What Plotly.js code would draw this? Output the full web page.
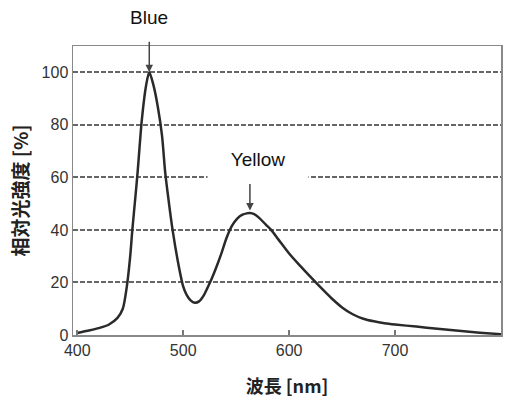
<!DOCTYPE html>
<html>
<head>
<meta charset="utf-8">
<script src="https://cdn.plot.ly/plotly-3.0.1.min.js"></script>
<style>html,body{margin:0;padding:0;background:#fff;}#chart{width:505px;height:402px;}</style>
</head>
<body>
<div id="chart"></div>
<script>
const wavelength = [400,410,420,430,438,443,447,450,452,455,457,461,465,468,472,476,480,483,486,490,495,500,503,507,511,515,519,523,527,531,536,541,546,551,556,560,563,567,572,578,583,590,600,610,620,630,640,650,660,670,680,690,700,720,740,760,780,800];
const intensity  = [0.8,1.6,2.6,4,6.5,10,19,30,40,53,62,82,95,100,95,87,76,62,52,40,28,18.5,15.5,13.2,12.3,12.8,14.8,18,21.5,25.5,31,37,41.5,44.3,45.8,46.3,46.4,46,44.5,42,40,36.3,31,26.5,22.2,18,14,10.5,7.9,6.2,5.2,4.5,4,3.2,2.4,1.6,0.9,0.3];
const yTicks = [0,20,40,60,80,100];
const xTicks = [400,500,600,700];
const peakLabels = ["Blue","Yellow"];
const peakX = [468,563];
const peakY = [100,46.4];

const trace = {
  x: wavelength, y: intensity, type: 'scatter', mode: 'lines',
  line: {color: '#2a2a2a', width: 2.5, shape: 'spline', smoothing: 0.8},
  hoverinfo: 'skip'
};

const layout = {
  width: 505, height: 402,
  margin: {l: 73, r: 4, t: 46, b: 67},
  paper_bgcolor: '#ffffff', plot_bgcolor: '#ffffff',
  showlegend: false,
  font: {family: 'Liberation Sans, Arial, sans-serif', color: '#333'},
  xaxis: {
    range: [396, 800], tickvals: xTicks, ticktext: xTicks.map(String),
    ticks: 'inside', ticklen: 5, tickwidth: 1.5, tickcolor: '#777',
    showgrid: false, zeroline: false,
    showline: true, linecolor: '#888', linewidth: 1.5, mirror: true,
    tickfont: {size: 16, color: '#333', family: 'Liberation Sans, Arial, sans-serif'},
    title: {text: '波長 [nm]', font: {size: 18, color: '#222', family: 'Noto Sans CJK JP', weight: 'bold'}, standoff: 22}
  },
  yaxis: {
    range: [0, 110], tickvals: yTicks, ticktext: yTicks.map(String),
    ticks: '', showgrid: true, gridcolor: '#666666', gridwidth: 2, griddash: '5px,2px',
    zeroline: false,
    showline: true, linecolor: '#888', linewidth: 1.5, mirror: true,
    tickfont: {size: 16, color: '#333', family: 'Liberation Sans, Arial, sans-serif'},
    title: {text: '相対光強度 [%]', font: {size: 19, color: '#222', family: 'Noto Sans CJK JP', weight: 'bold'}, standoff: 8}
  },
  annotations: [
    {x: peakX[0], y: peakY[0], xref: 'x', yref: 'y', text: '', showarrow: true,
     ax: 0, ay: -32, arrowhead: 2, arrowsize: 1, arrowwidth: 1.5, arrowcolor: '#444', standoff: 0},
    {x: peakX[1], y: peakY[1] + 1, xref: 'x', yref: 'y', text: '', showarrow: true,
     ax: 0, ay: -28, arrowhead: 2, arrowsize: 1, arrowwidth: 1.5, arrowcolor: '#444', standoff: 0},
    {x: peakX[0], y: 1.1, xref: 'x', yref: 'paper', yanchor: 'middle', text: peakLabels[0], showarrow: false,
     font: {size: 19, color: '#111', family: 'Liberation Sans, Arial, sans-serif'}},
    {x: 570.3, y: 67.1, xref: 'x', yref: 'y', yanchor: 'middle', text: peakLabels[1], showarrow: false,
     bgcolor: '#ffffff', width: 98, height: 40,
     font: {size: 19, color: '#111', family: 'Liberation Sans, Arial, sans-serif'}}
  ]
};

Plotly.newPlot('chart', [trace], layout, {displayModeBar: false, staticPlot: true});
</script>
</body>
</html>
